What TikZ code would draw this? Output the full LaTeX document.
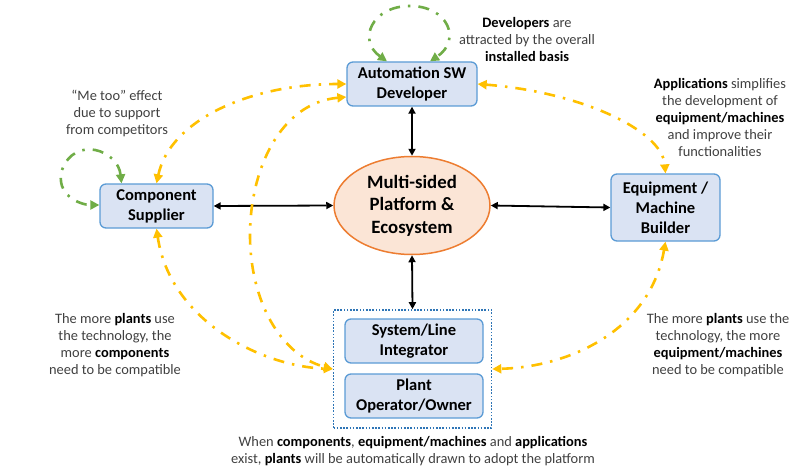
\documentclass[tikz,border=0pt]{standalone}
\usepackage{fontspec}
\setmainfont{Carlito}
\usetikzlibrary{arrows.meta,shapes.geometric}
\definecolor{boxfill}{HTML}{DAE3F3}
\definecolor{boxline}{HTML}{5B9BD5}
\definecolor{ovalfill}{HTML}{FBE5D6}
\definecolor{ovalline}{HTML}{ED7D31}
\definecolor{flowyellow}{HTML}{FFC000}
\definecolor{loopgreen}{HTML}{70AD47}
\definecolor{dotblue}{HTML}{2E75B6}
\definecolor{notegray}{HTML}{404040}
\tikzset{
  actor/.style={draw=boxline, line width=1.3pt, fill=boxfill, rounded corners=6pt,
    inner sep=0pt, align=center, font=\fontsize{16.5}{20}\selectfont\bfseries},
  oval/.style={ellipse, draw=ovalline, line width=1.5pt, fill=ovalfill, inner sep=0pt,
    minimum width=156pt, minimum height=98pt, align=center,
    font=\fontsize{18.8}{22.5}\selectfont\bfseries},
  group/.style={draw=dotblue, line width=1.6pt, dash pattern=on 1.6pt off 1.6pt, inner sep=0pt},
  note/.style={align=center, text=notegray, inner sep=0pt, font=\fontsize{14.4}{17}\selectfont},
  link/.style={<->, line width=1.8pt, >={Triangle[length=7pt,width=7pt]}},
  flow/.style={<->, draw=flowyellow, line width=2.6pt, dash pattern=on 11pt off 8pt on 2.5pt off 8pt,
    >={Triangle[length=9pt,width=9pt]}},
  loop/.style={<->, draw=loopgreen, line width=2.6pt, dash pattern=on 11pt off 8pt on 2.5pt off 8pt,
    >={Triangle[length=9pt,width=9pt]}},
}
\newcommand{\bk}[1]{\textbf{\color{black}#1}}
\begin{document}
\begin{tikzpicture}[x=1pt,y=-1pt]
\useasboundingbox (0,0) rectangle (802,468);

% actors and platform
\node[actor, minimum width=130pt, minimum height=44pt] (dev) at (412,84) {Automation SW\\Developer};
\node[actor, minimum width=113pt, minimum height=44pt] (comp) at (156.5,206) {Component\\Supplier};
\node[actor, minimum width=109pt, minimum height=67pt] (equip) at (665.5,207.5) {Equipment /\\Machine\\Builder};
\node[oval] (core) at (412,205.5) {Multi-sided\\Platform \&\\Ecosystem};
\node[actor, minimum width=138pt, minimum height=44pt] (sys) at (414,341) {System/Line\\Integrator};
\node[actor, minimum width=138pt, minimum height=44pt] (plant) at (414,396) {Plant\\Operator/Owner};
\node[group, minimum width=158pt, minimum height=118pt] (grp) at (412.5,369) {};

% links to the platform
\draw[link] (dev.south) -- (core.north);
\draw[link] (comp.east) -- (core.west);
\draw[link] (core.east) -- (equip.west);
\draw[link] (core.south) -- (grp.north);

% self-reinforcing loops
\draw[loop] ([xshift=-25pt]dev.north) .. controls (357,40) and (372,6) .. (410,6)
  .. controls (448,6) and (462,40) .. ([xshift=18pt]dev.north);
\draw[loop] ([xshift=-35pt]comp.north) .. controls (118,150) and (75,135) .. (62,170)
  .. controls (55,195) and (80,205) .. ([yshift=1pt]comp.west);

% cross-side network effects
\draw[flow] (comp.north) .. controls (170,120) and (250,84) .. (dev.west);
\draw[flow] ([yshift=-13pt]dev.west) .. controls (280,103) and (250,170) .. (250,235)
  .. controls (250,300) and (280,355) .. (grp.west);
\draw[flow] (comp.south) .. controls (170,320) and (260,366) .. (grp.west);
\draw[flow] (dev.east) .. controls (580,92) and (662,130) .. (equip.north);
\draw[flow] (equip.south) .. controls (650,330) and (570,367) .. (grp.east);

% annotations
\node[note] (n1) at (527,40) {\bk{Developers} are\\attracted by the overall\\\bk{installed basis}};
\node[note] (n2) at (117,113) {“Me too” effect\\due to support\\from competitors};
\node[note] (n3) at (720,117.5) {\bk{Applications} simplifies\\the development of\\\bk{equipment/machines}\\and improve their\\functionalities};
\node[note] (n4) at (115,345.5) {The more \bk{plants} use\\the technology, the\\more \bk{components}\\need to be compatible};
\node[note] (n5) at (718,345.5) {The more \bk{plants} use the\\technology, the more\\\bk{equipment/machines}\\need to be compatible};
\node[note] (n6) at (413,451.5) {When \bk{components}, \bk{equipment/machines} and \bk{applications}\\exist, \bk{plants} will be automatically drawn to adopt the platform};
\end{tikzpicture}
\end{document}
